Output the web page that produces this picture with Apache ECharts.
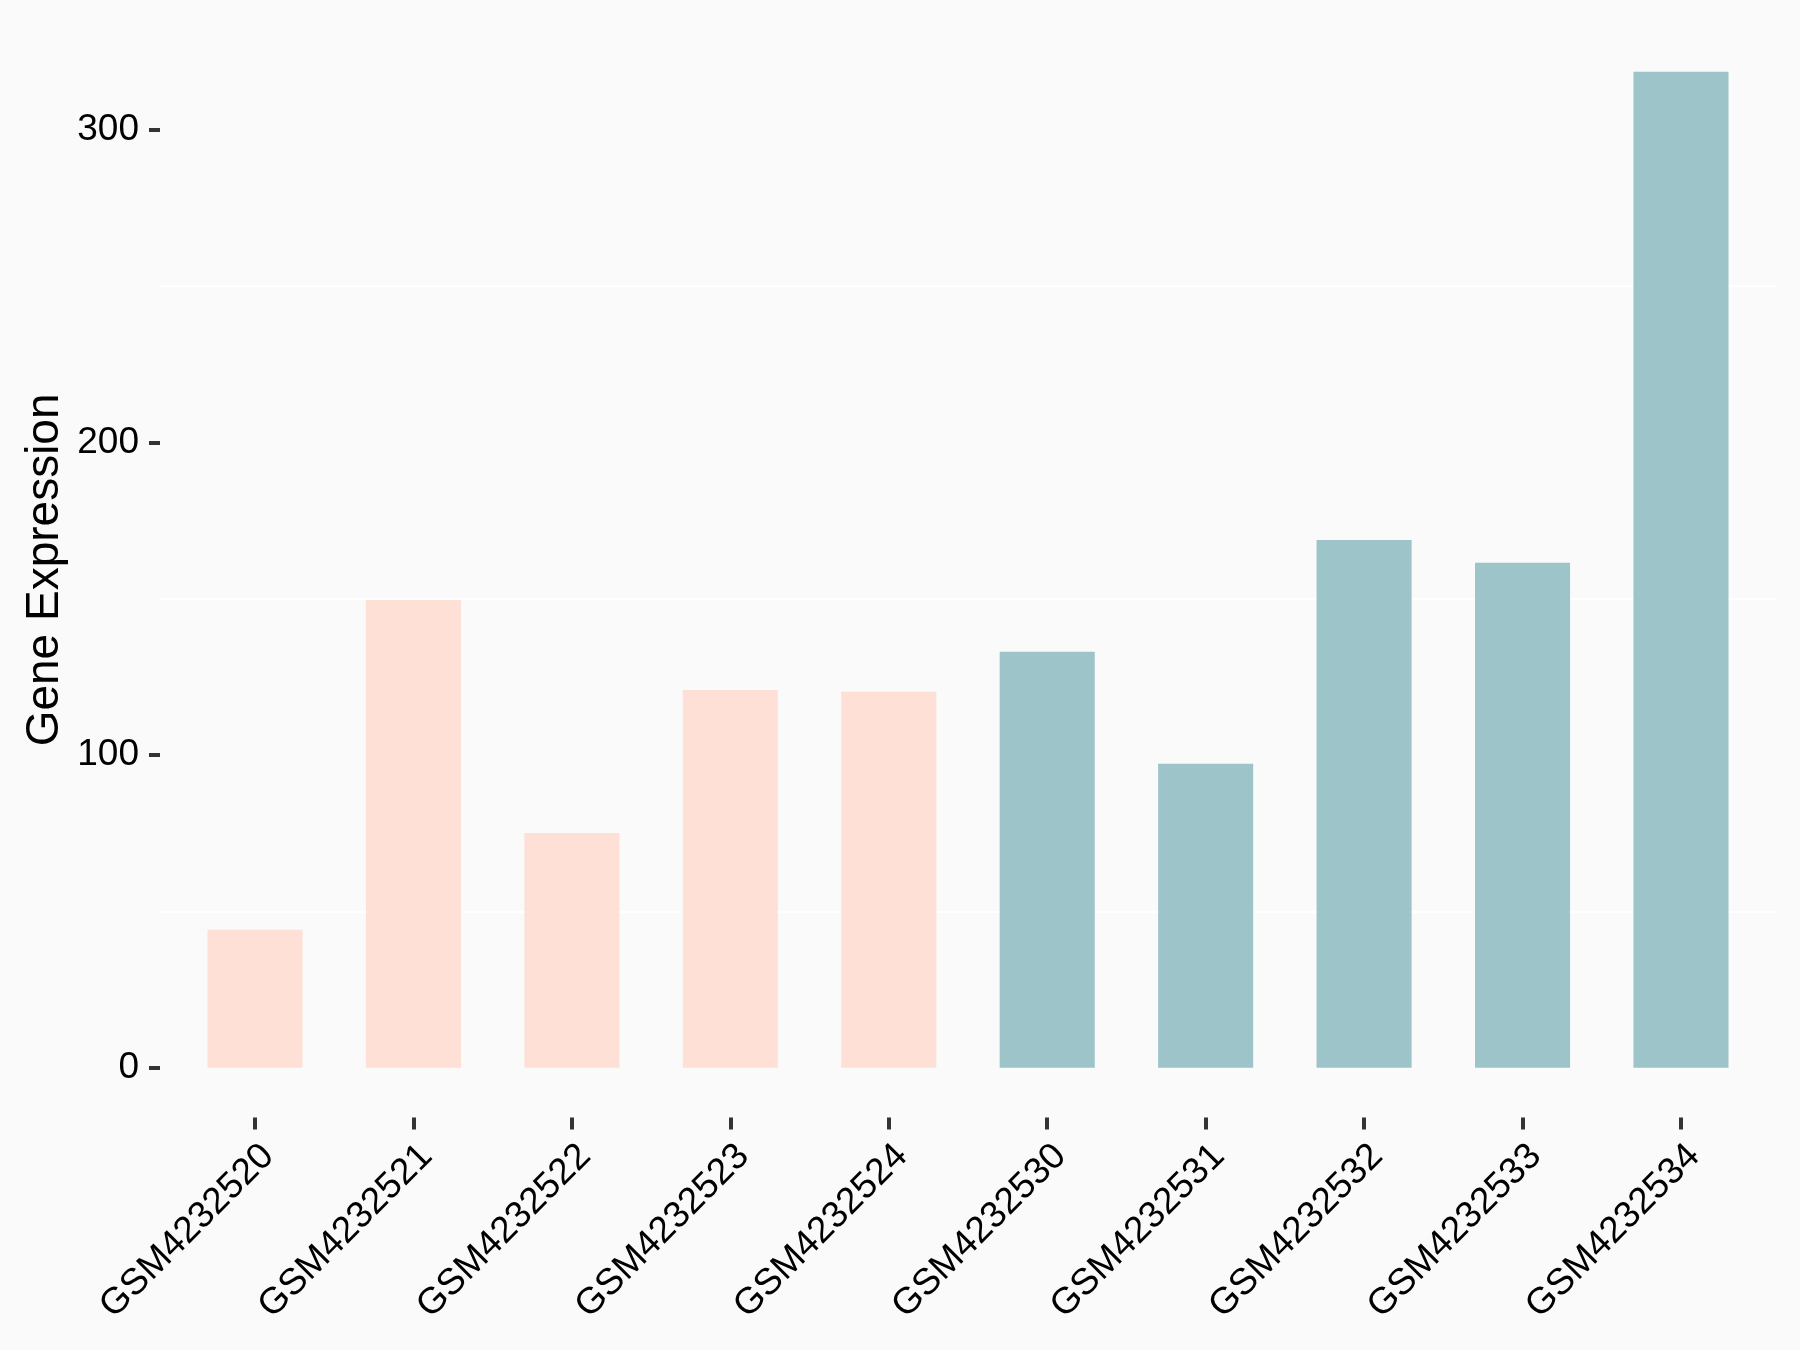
<!DOCTYPE html>
<html>
<head>
<meta charset="utf-8">
<script src="https://cdn.jsdelivr.net/npm/echarts@6/dist/echarts.min.js"></script>
<style>
html,body{margin:0;padding:0;background:#FAFAFA;}
#chart{width:1800px;height:1350px;}
</style>
</head>
<body>
<div id="chart"></div>
<script>
var categories = ['GSM4232520','GSM4232521','GSM4232522','GSM4232523','GSM4232524','GSM4232530','GSM4232531','GSM4232532','GSM4232533','GSM4232534'];
var values = [44.1, 149.6, 75.1, 120.8, 120.2, 133.0, 97.2, 168.8, 161.5, 318.5];
var groups = ['A','A','A','A','A','B','B','B','B','B'];
var groupColors = {A:'#FEE0D6', B:'#9DC4C8'};
var yTicks = [0, 100, 200, 300];
var yTitle = 'Gene Expression';

var FONT = '"Liberation Sans", Arial, sans-serif';
var chart = echarts.init(document.getElementById('chart'), null, {renderer:'canvas'});

var barData = values.map(function(v,i){
  return {value:v, itemStyle:{color:groupColors[groups[i]]}};
});

var option = {
  backgroundColor:'#FAFAFA',
  animation:false,
  grid:[
    {left:160, right:24, top:129.7, bottom:282.3},
    {left:175.8, right:39.8, top:129.7, bottom:232.6},
    {left:160, right:24, top:22.4, bottom:232.6}
  ],
  xAxis:[
    {gridIndex:0, type:'category', data:categories, show:false},
    {gridIndex:1, type:'category', data:categories,
     axisLine:{show:false, onZero:false},
     axisTick:{show:true, alignWithLabel:true, length:12, lineStyle:{color:'#333333', width:4}},
     axisLabel:{rotate:45, align:'right', verticalAlign:'top', margin:20, color:'#000000',
       fontSize:37, fontFamily:FONT, interval:0},
     splitLine:{show:false}},
    {gridIndex:2, type:'category', data:categories, show:false}
  ],
  yAxis:[
    {gridIndex:0, type:'value', min:yTicks[0], max:yTicks[yTicks.length-1], interval:100,
     axisLine:{show:false},
     axisTick:{show:true, length:11, lineStyle:{color:'#333333', width:4}},
     axisLabel:{color:'#000000', fontSize:37, fontFamily:FONT, margin:21},
     splitLine:{show:false},
     minorTick:{show:false, splitNumber:2},
     minorSplitLine:{show:true, lineStyle:{color:'#FFFFFF', width:2}}},
    {gridIndex:1, type:'value', min:-15.9, max:yTicks[yTicks.length-1], show:false,
     splitLine:{show:false}},
    {gridIndex:2, type:'value', min:0, max:1,
     axisLine:{show:false}, axisTick:{show:false}, axisLabel:{show:false}, splitLine:{show:false},
     name:yTitle, nameLocation:'middle', nameGap:92,
     nameTextStyle:{color:'#000000', fontSize:46, fontFamily:FONT}}
  ],
  series:[
    {type:'bar', xAxisIndex:1, yAxisIndex:1, data:barData, barWidth:'60%', clip:false}
  ]
};
chart.setOption(option);
</script>
</body>
</html>
